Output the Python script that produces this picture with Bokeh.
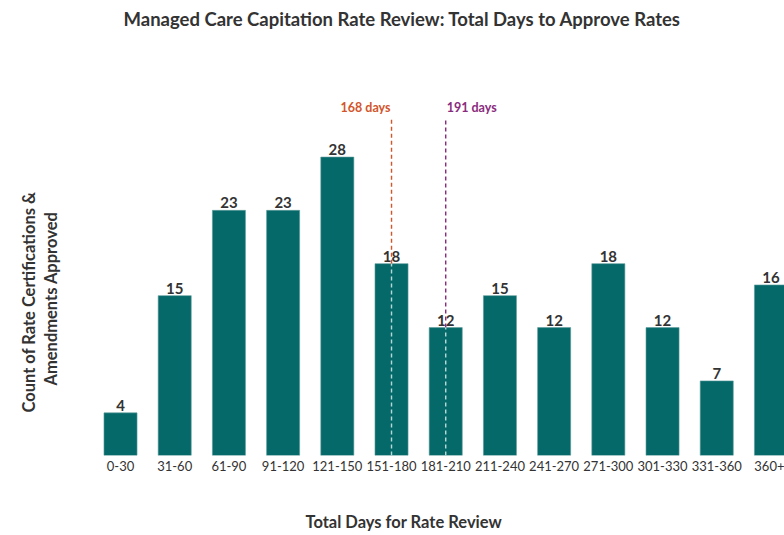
from bokeh.plotting import figure
from bokeh.models import Range1d, FixedTicker, ColumnDataSource, LinearAxis, Title
from bokeh.core.properties import value
from bokeh.embed import file_html
from bokeh.resources import INLINE

# ---- data ----
categories = ["0-30", "31-60", "61-90", "91-120", "121-150", "151-180", "181-210",
              "211-240", "241-270", "271-300", "301-330", "331-360", "360+"]
counts = [4, 15, 23, 23, 28, 18, 12, 15, 12, 18, 12, 7, 16]
bin_lows = [0, 31, 61, 91, 121, 151, 181, 211, 241, 271, 301, 331, 361]
marker_days = [168, 191]
marker_labels = ["168 days", "191 days"]
marker_colors = ["#d2552b", "#8a2c7e"]
marker_align = ["right", "left"]

TITLE = "Managed Care Capitation Rate Review: Total Days to Approve Rates"
XLABEL = "Total Days for Rate Review"
YLABEL_LINES = ["Count of Rate Certifications &", "Amendments Approved"]

FONT = "Lato"
BAR = "#05696a"
TXT = "#333333"

xs = list(range(len(categories)))

p = figure(width=784, height=535, output_backend="svg", toolbar_location=None,
           x_range=Range1d(-0.941, 12.25), y_range=Range1d(0, 39.5),
           min_border_right=0, min_border_left=69, min_border_top=0, min_border_bottom=80)

p.title.text = TITLE
p.title.align = "left"
p.title.text_font = FONT
p.title.text_font_size = "18.5px"
p.title.text_font_style = "bold"
p.title.text_color = TXT
p.title.standoff = 10
p.title.offset = 54

src = ColumnDataSource(dict(x=xs, top=counts, lab=[str(c) for c in counts]))
p.vbar(x="x", top="top", bottom=0, width=0.61, source=src,
       fill_color=BAR, line_color="#5f9c9b", line_width=0.6)
p.text(x="x", y="top", text="lab", source=src, text_align="center",
       text_baseline="bottom", y_offset=-2, text_font=value(FONT),
       text_font_size="15px", text_font_style="bold", text_color=TXT)

# marker lines
LINE_TOP = 31.7
for d, lab, col, al in zip(marker_days, marker_labels, marker_colors, marker_align):
    idx = max(i for i, lo in enumerate(bin_lows) if lo <= d)
    h = counts[idx]
    p.segment(x0=[idx], y0=[h], x1=[idx], y1=[LINE_TOP], line_color=col,
              line_width=1.4, line_dash="4 3")
    p.segment(x0=[idx], y0=[0], x1=[idx], y1=[h], line_color="#d8ecea",
              line_width=1.4, line_dash="4 3", line_alpha=0.85)
    p.text(x=[idx], y=[LINE_TOP], text=[lab], text_align=al, text_baseline="bottom",
           x_offset=(-1 if al == "right" else 1), y_offset=-3,
           text_font=value(FONT), text_font_size="12.5px", text_font_style="bold",
           text_color=col)

# x axis (tick labels)
xa = p.xaxis[0]
xa.ticker = FixedTicker(ticks=xs)
xa.major_label_overrides = {i: c for i, c in enumerate(categories)}
xa.major_label_text_font = FONT
xa.major_label_text_font_size = "13px"
xa.major_label_text_color = TXT
xa.major_label_standoff = 5
xa.major_tick_line_color = None
xa.major_tick_out = 0
xa.major_tick_in = 0
xa.minor_tick_line_color = None
xa.axis_line_color = None

# invisible gap between tick labels and the x title
gap = LinearAxis(major_label_text_font_size="0px",
                 major_tick_line_color=None, minor_tick_line_color=None,
                 axis_line_color=None, major_tick_out=37, major_tick_in=0,
                 major_label_standoff=0)
p.add_layout(gap, "below")
p.add_layout(Title(text=XLABEL, align="left", offset=236, standoff=0,
                   vertical_align="middle", text_font=FONT, text_font_size="16.5px",
                   text_font_style="bold", text_color=TXT), "below")

# y axis (no ticks), then the two title lines
ya = p.yaxis[0]
ya.major_label_text_font_size = "0px"
ya.major_tick_line_color = None
ya.major_tick_out = 8
ya.major_tick_in = 0
ya.minor_tick_line_color = None
ya.axis_line_color = None
ya.major_label_standoff = 0

for line, off in zip(reversed(YLABEL_LINES), [70, 43]):
    p.add_layout(Title(text=line, align="left", offset=off, standoff=0,
                       vertical_align="middle", text_font=FONT,
                       text_font_size="16.5px", text_font_style="bold",
                       text_color=TXT), "left")

p.xgrid.grid_line_color = None
p.ygrid.grid_line_color = None
p.outline_line_color = None

open("out.html", "w").write(file_html(p, INLINE))
